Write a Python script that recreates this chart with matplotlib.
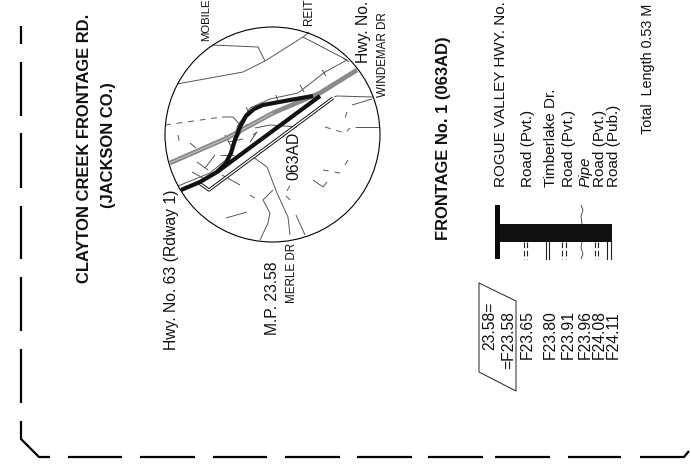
import matplotlib
matplotlib.use("Agg")
import matplotlib.pyplot as plt
import numpy as np

plt.rcParams['font.family'] = ['Liberation Sans', 'DejaVu Sans']

# ---- schematic data (pixel space) ----
border_dashes = [
    [(21, 26), (21, 44)], [(21, 62), (21, 116)], [(21, 133), (21, 188)], [(21, 206), (21, 259)],
    [(21, 277), (21, 331)], [(21, 349), (21, 403)], [(21, 421), (21, 439), (39, 457), (50, 457)],
    [(68, 457), (122, 457)], [(140, 457), (195, 457)], [(213, 457), (267, 457)],
    [(285, 457), (340, 457)], [(357, 457), (412, 457)], [(428, 457), (483, 457)],
    [(495, 457), (550, 457)], [(568, 457), (621, 457)], [(640, 457), (684, 457), (689, 451)],
]
mainline = [(170, 163), (227, 138), (273, 113), (320, 93), (357, 70)]
frontage_straight = [(181, 190), (200, 182), (217, 172), (320, 96)]
frontage_curve = [(217, 172), (226, 163), (231, 153), (235, 140), (240, 127), (246, 116), (254, 109), (263, 105), (290, 100), (313, 96)]
outline = [(199, 183), (209, 190), (333, 98)]
thin_roads = [
    [(178, 186), (210, 173), (228, 158), (238, 125), (250, 108), (270, 99), (298, 93), (325, 72), (347, 60), (303, 37), (309, 32)],
    [(177, 84), (243, 72), (265, 61), (303, 37)],
    [(212, 45), (258, 47), (265, 61)],
    [(334, 97), (337, 96), (373, 97)],
    [(352, 105), (372, 99)],
    [(355, 127), (379, 127)],
    [(222, 117), (233, 117), (240, 125)],
    [(253, 157), (267, 167), (277, 193), (288, 217), (290, 235)],
    [(260, 240), (268, 223), (270, 213), (263, 200), (273, 190)],
    [(226, 218), (247, 212)],
    [(296, 215), (305, 235)],
    [(313, 180), (323, 187), (327, 182)],
    [(222, 175), (240, 185)],
    [(255, 128), (270, 125), (297, 127)],
    [(253, 135), (257, 132), (250, 142)],
    [(205, 168), (215, 155)],
    [(234, 155), (220, 155)],
    [(197, 162), (208, 170)],
    [(192, 172), (203, 178)],
    [(225, 135), (233, 150)],
    [(246, 107), (250, 115)],
    [(276, 95), (278, 102)],
    [(300, 85), (304, 92)],
    [(322, 70), (326, 76)],
    [(343, 58), (349, 62)],
    [(190, 143), (196, 148)],
    [(243, 139), (228, 142)],
    [(247, 124), (237, 138)],
]
dashed_roads = [
    [(165, 125), (222, 117)],
    [(325, 127), (345, 133), (350, 128)],
    [(345, 165), (348, 160)],
    [(347, 112), (345, 118)],
    [(323, 170), (340, 173)],
    [(250, 195), (258, 200)],
    [(290, 200), (285, 195), (290, 185)],
    [(178, 135), (180, 145)],
]
pipe_upper = [(581, 205), (583, 210), (581, 216), (582, 224)]
pipe_lower = [(582, 242), (581, 248), (583, 254), (581, 259)]
box = [(479, 283), (516, 301), (516, 391), (479, 372), (479, 283)]
solid_ticks = [546, 549, 607, 611]
dashed_ticks = [524, 527, 562, 566, 595, 598]

features = ["ROGUE VALLEY HWY. No.", "Road (Pvt.)", "Timberlake Dr.", "Road (Pvt.)", "Pipe", "Road (Pvt.)", "Road (Pub.)"]
feature_x = [501, 528, 551, 569, 586, 600, 614]
mileposts = ["F23.65", "F23.80", "F23.91", "F23.96", "F24.08", "F24.11"]
milepost_x = [527, 550, 568, 585, 599, 613]

fig = plt.figure(figsize=(6.91, 4.65), dpi=100)
ax = fig.add_axes([0, 0, 1, 1])
ax.set_xlim(0, 691)
ax.set_ylim(465, 0)
ax.axis('off')

def line(pts, **kw):
    xs, ys = zip(*pts)
    kw.setdefault('solid_capstyle', 'butt')
    ax.plot(xs, ys, **kw)

for seg in border_dashes:
    line(seg, color='black', lw=1.6, solid_joinstyle='miter')

# locator circle
ax.add_patch(plt.Circle((272.5, 134.5), 107.5, fill=False, ec='black', lw=0.8, zorder=6))

for seg in thin_roads:
    line(seg, color='#555555', lw=0.7, zorder=2)
for seg in dashed_roads:
    line(seg, color='#555555', lw=0.7, ls=(0, (6, 6)), zorder=2)

line(mainline, color='#8a8a8a', lw=3.4, zorder=3)
line(mainline[:3], color='#dddddd', lw=0.5, zorder=3.1)
line(outline, color='black', lw=2.3, zorder=4, solid_joinstyle='round')
line(outline, color='white', lw=1.0, zorder=4.1, solid_joinstyle='round')
line(frontage_straight, color='#111111', lw=3.0, zorder=5)
line(frontage_curve, color='#111111', lw=3.0, zorder=5, solid_joinstyle='round')

# straight line diagram
ax.fill_between([495, 500], 205, 259, color='#0a0a0a', lw=0)
ax.fill_between([500, 612], 224, 242, color='#111111', lw=0)
for x in solid_ticks:
    ax.plot([x, x], [242, 259], color='#222222', lw=0.8)
for x in dashed_ticks:
    ax.plot([x, x], [242, 259], color='#222222', lw=0.8, ls=(0, (5, 2.5)))
line(pipe_upper, color='#333333', lw=0.6)
line(pipe_lower, color='#333333', lw=0.6)
line(box, color='#222222', lw=0.7)

def t(x, y, s, size=11.3, **kw):
    ax.text(x, y, s, rotation=90, ha='center', va='bottom', fontsize=size, color='#111111', **kw)

t(85, 283, "CLAYTON CREEK FRONTAGE RD.", 11.9, fontweight='bold')
t(109, 208, "(JACKSON CO.)", 11.9, fontweight='bold')
t(172, 350, "Hwy. No. 63 (Rdway 1)")
t(273, 335, "M.P. 23.58")
t(292, 303, "MERLE DR", 8.4)
t(206, 41, "MOBILE", 8.2)
t(309, 25, "REIT", 8.4)
t(364, 63, "Hwy. No.")
t(383, 97, "WINDEMAR DR", 8.4)
t(294, 180, "063AD")
t(444, 240, "FRONTAGE No. 1 (063AD)", 11.9, fontweight='bold')
for x, s in zip(feature_x, features):
    t(x, 187, s, 11.0, fontstyle='italic' if s == "Pipe" else 'normal')
t(490, 350, "23.58=")
t(509, 369, "=F23.58")
for x, s in zip(milepost_x, mileposts):
    t(x, 359, s)
t(648, 134, "Total  Length 0.53 M", 10.4)

fig.savefig("out.png", dpi=100)
